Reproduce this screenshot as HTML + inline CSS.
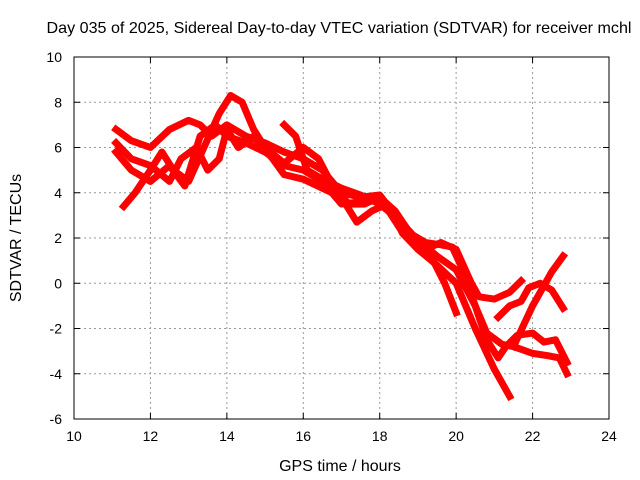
<!DOCTYPE html>
<html><head><meta charset="utf-8"><style>
body{margin:0;background:#fff}
svg{display:block;font-family:"Liberation Sans",sans-serif}
</style></head><body>
<svg id="chart" width="640" height="480" viewBox="0 0 640 480" xmlns="http://www.w3.org/2000/svg">
<rect width="640" height="480" fill="#fff"/>
<text x="339" y="33" font-size="16" text-anchor="middle" textLength="585" lengthAdjust="spacingAndGlyphs">Day 035 of 2025, Sidereal Day-to-day VTEC variation (SDTVAR) for receiver mchl</text>
<text x="340" y="471" font-size="16" text-anchor="middle">GPS time / hours</text>
<text transform="translate(21,238) rotate(-90)" font-size="16" text-anchor="middle">SDTVAR / TECUs</text>
<g id="grid"></g><g id="series"></g>
<rect x="74" y="57" width="535" height="362" fill="none" stroke="#000" stroke-width="1"/>
<g id="ticks"></g>
</svg>
<script>
const xTicks=[10,12,14,16,18,20,22,24];
const yTicks=[-6,-4,-2,0,2,4,6,8,10];
const s1=[[11.1,6.8],[11.5,6.3],[12,6.0],[12.5,6.8],[13,7.2],[13.3,7.0],[13.6,6.5],[14,7.0],[14.5,6.5],[15,6.2],[15.5,5.8],[16,5.5],[16.5,5.0],[17,4.0],[17.5,3.8],[18,3.9],[18.4,3.0],[18.8,2.0],[19.2,1.5],[19.6,1.8],[20,1.5],[20.4,0],[20.6,-0.6],[21,-0.7],[21.4,-0.4],[21.7,0.1]];
const s2=[[11.3,3.4],[11.6,4.0],[12,5.0],[12.3,5.8],[12.6,5.0],[13,4.5],[13.4,6.0],[13.8,7.5],[14.1,8.3],[14.4,8.0],[14.7,6.8],[15,6.0],[15.5,5.3],[16,6.0],[16.4,5.5],[16.8,4.2],[17.2,3.5],[17.6,3.5],[18,3.8],[18.4,3.2],[18.8,2.2],[19.2,1.8],[19.6,1.7],[19.9,1.6],[20.2,0.5],[20.5,-1.0],[20.8,-2.5],[21.1,-3.3],[21.3,-2.8],[21.6,-2.3],[22,-2.2],[22.3,-2.6],[22.6,-2.5],[22.9,-3.5]];
const s3=[[11.1,6.2],[11.5,5.5],[12,5.2],[12.5,4.5],[12.8,5.5],[13.2,6.0],[13.5,5.0],[13.8,5.5],[14,6.8],[14.3,6.0],[14.7,6.5],[15.2,5.5],[15.5,4.8],[16,4.6],[16.5,4.2],[17,3.8],[17.4,2.7],[17.8,3.2],[18.2,3.5],[18.6,2.2],[19,1.5],[19.4,1.0],[19.7,0],[20,-1.3]];
const s4=[[11.1,5.8],[11.5,5.0],[12,4.5],[12.5,5.2],[12.9,4.3],[13.3,6.5],[13.7,7.0],[14,6.5],[14.5,6.2],[15,5.8],[15.5,5.2],[16,5.0],[16.5,4.5],[17,3.5],[17.5,3.6],[18,3.8],[18.5,2.5],[19,1.5],[19.5,0.8],[20,0],[20.5,-2.0],[21,-3.8],[21.4,-5.0]];
const s5=[[15.5,7.0],[15.8,6.5],[16.1,5.0],[16.5,4.6],[17,4.2],[17.5,3.9],[18,3.5],[18.5,2.8],[19,1.9],[19.5,1.2],[20,0.6],[20.5,-1.0],[20.8,-2.2],[21.2,-2.7],[21.5,-2.8],[22,-3.1],[22.4,-3.2],[22.7,-3.3],[22.9,-4.0]];
const s6=[[21.1,-1.5],[21.4,-1.0],[21.7,-0.8],[21.9,-0.2],[22.2,0],[22.5,-0.3],[22.8,-1.1]];
const s7=[[21.5,-2.8],[22,-1.0],[22.5,0.5],[22.8,1.2]];
const seriesList=[s1,s2,s3,s4,s5,s6,s7];
const NS="http://www.w3.org/2000/svg";
const X=v=>74+(v-10)*535/14, Y=v=>419-(v+6)*362/16;
const grid=document.getElementById('grid'),ticks=document.getElementById('ticks'),ser=document.getElementById('series');
function mk(tag,at,par){const e=document.createElementNS(NS,tag);for(const k in at)e.setAttribute(k,at[k]);par.appendChild(e);return e;}
xTicks.forEach(t=>{
 const x=X(t);
 if(t>10&&t<24){const g=mk('line',{x1:x,x2:x,y1:57,y2:419,stroke:'#999','stroke-dasharray':'2,3'},grid);
 
 }
 mk('line',{x1:x,x2:x,y1:419,y2:413,stroke:'#000'},ticks);mk('line',{x1:x,x2:x,y1:57,y2:63,stroke:'#000'},ticks);
 const l=mk('text',{x:x,y:441,'font-size':14,'text-anchor':'middle'},ticks);l.textContent=t;
 
 
});
yTicks.forEach(t=>{
 const y=Y(t);
 if(t>-6&&t<10){const g=mk('line',{x1:74,x2:609,y1:y,y2:y,stroke:'#999','stroke-dasharray':'2,3'},grid);
 
 }
 mk('line',{x1:74,x2:80,y1:y,y2:y,stroke:'#000'},ticks);mk('line',{x1:609,x2:603,y1:y,y2:y,stroke:'#000'},ticks);
 const l=mk('text',{x:62,y:y+5,'font-size':14,'text-anchor':'end'},ticks);l.textContent=t;
 
 
});
seriesList.forEach((s,i)=>{
 const p=mk('polyline',{points:s.map(d=>X(d[0])+','+Y(d[1])).join(' '),fill:'none',stroke:'#f00','stroke-width':7,'stroke-linejoin':'round','stroke-linecap':'square'},ser);
 
 
});
</script>
</body></html>
